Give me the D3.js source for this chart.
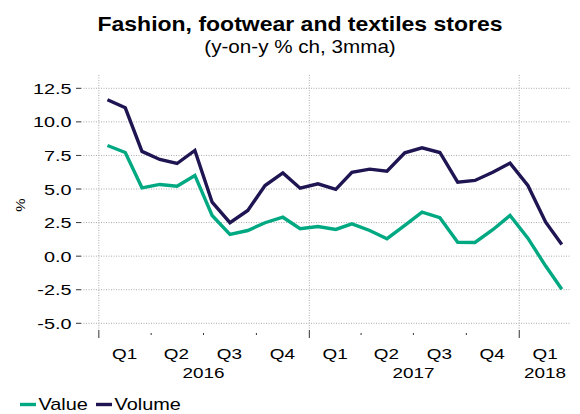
<!DOCTYPE html>
<html><head><meta charset="utf-8">
<script src="https://cdn.jsdelivr.net/npm/d3@7"></script>
<style>body{margin:0;background:#fff}svg{display:block;font-family:"Liberation Sans",Arial,sans-serif}</style>
</head><body><svg id="c" width="580" height="414"></svg>
<script>
const months = ["2016-01","2016-02","2016-03","2016-04","2016-05","2016-06","2016-07","2016-08","2016-09","2016-10","2016-11","2016-12",
"2017-01","2017-02","2017-03","2017-04","2017-05","2017-06","2017-07","2017-08","2017-09","2017-10","2017-11","2017-12",
"2018-01","2018-02","2018-03"];
const valueSeries = [8.24,7.72,5.09,5.34,5.21,6.01,3.03,1.62,1.91,2.49,2.90,2.04,2.21,1.99,2.41,1.91,1.30,2.29,3.28,2.86,1.04,1.02,1.97,3.03,1.34,-0.74,-2.46];
const volumeSeries = [11.65,11.05,7.80,7.20,6.90,7.87,4.02,2.49,3.40,5.26,6.20,5.06,5.39,4.97,6.25,6.48,6.33,7.70,8.07,7.72,5.51,5.64,6.25,6.93,5.26,2.53,0.87];
const yTicks = [12.5,10.0,7.5,5.0,2.5,0.0,-2.5,-5.0];
const quarterLabels = ["Q1","Q2","Q3","Q4","Q1","Q2","Q3","Q4","Q1"];
const yearLabels = ["2016","2017","2018"];
const seriesNames = ["Value","Volume"];
const colors = ["#00a982","#1f1552"];

const svg = d3.select("#c");
const parse = d3.timeParse("%Y-%m");
const mid = m => { const d = parse(m); return new Date(d.getFullYear(), d.getMonth(), 16); };

const x = d3.scaleTime().domain([new Date(2015,11,1), new Date(2018,3,1)]).range([81, 571]);
const y = d3.scaleLinear().domain([-5, 12.5]).range([323.3, 88.3]);

function txt(g, px, py, s, size, anchor, sx, weight) {
  return g.append("text").attr("transform", `translate(${px},${py}) scale(${sx},1)`)
    .attr("text-anchor", anchor).attr("font-size", size)
    .attr("font-weight", weight || "normal").attr("fill", "#000").text(s);
}

// title
txt(svg, 300, 30.5, "Fashion, footwear and textiles stores", 20, "middle", 1.15, "bold");
txt(svg, 300, 53, "(y-on-y % ch, 3mma)", 17.5, "middle", 1.18);

// horizontal grid
svg.append("g").selectAll("line").data(yTicks).join("line")
  .attr("x1",81).attr("x2",571).attr("y1",d=>y(d)).attr("y2",d=>y(d))
  .attr("stroke","#aaa").attr("stroke-width",1).attr("stroke-dasharray","1,1.5");
// y tick marks and labels
svg.append("g").selectAll("line").data(yTicks).join("line")
  .attr("x1",76).attr("x2",81).attr("y1",d=>y(d)).attr("y2",d=>y(d)).attr("stroke","#333");
const yl = svg.append("g");
yTicks.forEach(d => txt(yl, 71.5, y(d) + 5.5, d.toFixed(1), 15.5, "end", 1.28));
svg.append("text").attr("transform","translate(25,205) rotate(-90) scale(1.15,1)").attr("text-anchor","middle")
  .attr("font-size",13).text("%");

// vertical year grid
const yearStarts = [new Date(2016,0,1), new Date(2017,0,1), new Date(2018,0,1)];
svg.append("g").selectAll("line").data(yearStarts).join("line")
  .attr("x1",d=>x(d)).attr("x2",d=>x(d)).attr("y1",75).attr("y2",330)
  .attr("stroke","#aaa").attr("stroke-dasharray","1,1.5");
svg.append("g").selectAll("line").data(yearStarts).join("line")
  .attr("x1",d=>x(d)).attr("x2",d=>x(d)).attr("y1",330).attr("y2",338).attr("stroke","#333");
// quarter ticks
const qStarts = d3.range(9).map(i => new Date(2016, i*3, 1)).filter(d => d.getMonth() !== 0);
svg.append("g").selectAll("rect").data(qStarts).join("rect")
  .attr("x",d=>x(d)-0.5).attr("y",333).attr("width",1).attr("height",2).attr("fill","#333");
// quarter labels
const qMids = d3.range(9).map(i => new Date(2016, i*3+1, 15));
const ql = svg.append("g");
quarterLabels.forEach((d,i) => txt(ql, x(qMids[i]), 358.5, d, 15.5, "middle", 1.22));
const yearMids = [new Date(2016,6,1), new Date(2017,6,1), new Date(2018,1,15)];
yearLabels.forEach((d,i) => txt(ql, x(yearMids[i]), 377.5, d, 15, "middle", 1.26));

// lines
const line = d3.line().x((d,i)=>x(mid(months[i]))).y(d=>y(d));
[valueSeries, volumeSeries].forEach((s,k) => {
  svg.append("path").datum(s).attr("d",line).attr("fill","none")
    .attr("stroke",colors[k]).attr("stroke-width",3.4).attr("stroke-linejoin","miter");
});

// legend
const lg = svg.append("g");
const lx = [20, 96];
seriesNames.forEach((n,k) => {
  lg.append("line").attr("x1",lx[k]).attr("x2",lx[k]+16).attr("y1",404.5).attr("y2",404.5)
    .attr("stroke",colors[k]).attr("stroke-width",3.4);
  txt(lg, lx[k]+18.5, 409.5, n, 17, "start", 1.17);
});
</script></body></html>
